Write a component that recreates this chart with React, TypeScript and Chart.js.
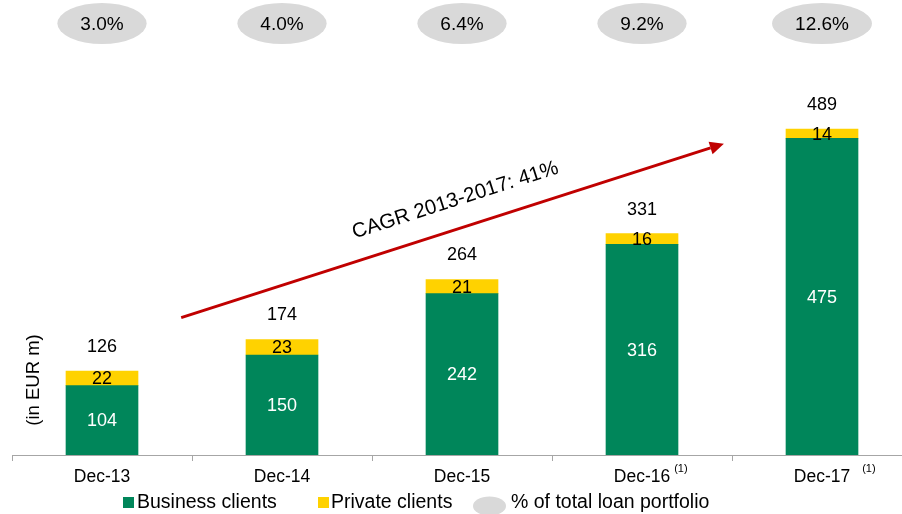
import React, { useEffect, useRef } from "react";
import { Chart, registerables } from "chart.js";

Chart.register(...registerables);

// ---- data ----
const categories = ["Dec-13", "Dec-14", "Dec-15", "Dec-16", "Dec-17"];
const footnotes = ["", "", "", "(1)", "(1)"];
const businessClients = [104, 150, 242, 316, 475];
const privateClients = [22, 23, 21, 16, 14];
const totals = [126, 174, 264, 331, 489];
const shareOfPortfolio = ["3.0%", "4.0%", "6.4%", "9.2%", "12.6%"];
const cagrLabel = "CAGR 2013-2017: 41%";
const yAxisTitle = "(in EUR m)";
const legendLabels = ["Business clients", "Private clients", "% of total loan portfolio"];
// arrow annotation endpoints in data space (x = category index, y = EUR m)
const arrowFrom = { x: 0.44, y: 206 };
const arrowTo = { x: 3.455, y: 467 };

// ---- styles ----
const GREEN = "#00865A";
const YELLOW = "#FFD200";
const GREY = "#D9D9D9";
const RED = "#C00000";
const FONT = '"Liberation Sans", Arial, Helvetica, sans-serif';

const overlayPlugin = {
  id: "overlay",
  afterDatasetsDraw(chart: any) {
    const ctx: CanvasRenderingContext2D = chart.ctx;
    const xs = chart.scales.x;
    const ys = chart.scales.y;
    const area = chart.chartArea;
    const y0 = ys.getPixelForValue(0);
    ctx.save();

    // axis line + tick marks at category boundaries
    ctx.strokeStyle = "#A6A6A6";
    ctx.lineWidth = 1;
    ctx.beginPath();
    ctx.moveTo(area.left, Math.round(y0) + 0.5);
    ctx.lineTo(area.right, Math.round(y0) + 0.5);
    for (let i = 0; i <= categories.length; i++) {
      const x = Math.round(xs.getPixelForValue(i - 0.5)) + 0.5;
      ctx.moveTo(x, Math.round(y0));
      ctx.lineTo(x, Math.round(y0) + 6);
    }
    ctx.stroke();

    ctx.textAlign = "center";
    ctx.textBaseline = "middle";

    categories.forEach((cat, i) => {
      const cx = xs.getPixelForValue(i);
      const b = businessClients[i];
      const p = privateClients[i];
      // segment labels
      ctx.font = `18px ${FONT}`;
      ctx.fillStyle = "#FFFFFF";
      ctx.fillText(String(b), cx, (ys.getPixelForValue(0) + ys.getPixelForValue(b)) / 2 + 1);
      ctx.fillStyle = "#000000";
      ctx.fillText(String(p), cx, (ys.getPixelForValue(b) + ys.getPixelForValue(b + p)) / 2 + 1);
      // totals
      ctx.fillText(String(totals[i]), cx, ys.getPixelForValue(totals[i]) - 24);

      // category labels
      ctx.font = `17.5px ${FONT}`;
      ctx.fillStyle = "#000000";
      ctx.fillText(cat, cx, y0 + 22);
      if (footnotes[i]) {
        const tw = ctx.measureText(cat).width;
        ctx.font = `11px ${FONT}`;
        ctx.textAlign = "left";
        const gap = i === categories.length - 1 ? 12 : 4;
        ctx.fillText(footnotes[i], cx + tw / 2 + gap, y0 + 14);
        ctx.textAlign = "center";
      }

      // percentage ellipses
      ctx.font = `19px ${FONT}`;
      const pw = ctx.measureText(shareOfPortfolio[i]).width;
      const rx = Math.max(83, pw + 46) / 2;
      ctx.fillStyle = GREY;
      ctx.beginPath();
      ctx.ellipse(cx, 23.5, rx, 20.5, 0, 0, Math.PI * 2);
      ctx.fill();
      ctx.fillStyle = "#000000";
      ctx.fillText(shareOfPortfolio[i], cx, 25);
    });

    // CAGR arrow
    const ax1 = xs.getPixelForValue(arrowFrom.x);
    const ay1 = ys.getPixelForValue(arrowFrom.y);
    const ax2 = xs.getPixelForValue(arrowTo.x);
    const ay2 = ys.getPixelForValue(arrowTo.y);
    const ang = Math.atan2(ay2 - ay1, ax2 - ax1);
    const headLen = 14;
    const headHalf = 6.5;
    ctx.strokeStyle = RED;
    ctx.fillStyle = RED;
    ctx.lineWidth = 3;
    ctx.beginPath();
    ctx.moveTo(ax1, ay1);
    ctx.lineTo(ax2 - headLen * Math.cos(ang), ay2 - headLen * Math.sin(ang));
    ctx.stroke();
    ctx.beginPath();
    ctx.moveTo(ax2, ay2);
    ctx.lineTo(
      ax2 - headLen * Math.cos(ang) + headHalf * Math.sin(ang),
      ay2 - headLen * Math.sin(ang) - headHalf * Math.cos(ang)
    );
    ctx.lineTo(
      ax2 - headLen * Math.cos(ang) - headHalf * Math.sin(ang),
      ay2 - headLen * Math.sin(ang) + headHalf * Math.cos(ang)
    );
    ctx.closePath();
    ctx.fill();

    // CAGR text, parallel to the arrow
    const along = 12;
    const mx = (ax1 + ax2) / 2 + along * Math.cos(ang);
    const my = (ay1 + ay2) / 2 + along * Math.sin(ang);
    const off = 28;
    const tx = mx + off * Math.sin(ang);
    const ty = my - off * Math.cos(ang);
    ctx.save();
    ctx.translate(tx, ty);
    ctx.rotate(ang);
    ctx.font = `20.5px ${FONT}`;
    ctx.fillStyle = "#000000";
    ctx.fillText(cagrLabel, 0, 0);
    ctx.restore();

    // y axis title
    ctx.save();
    ctx.translate(area.left + 22, 380);
    ctx.rotate(-Math.PI / 2);
    ctx.font = `18.5px ${FONT}`;
    ctx.fillStyle = "#000000";
    ctx.fillText(yAxisTitle, 0, 0);
    ctx.restore();

    // legend
    const ly = 502;
    ctx.font = `19.5px ${FONT}`;
    ctx.textAlign = "left";
    ctx.fillStyle = GREEN;
    ctx.fillRect(123, ly - 5, 11, 11);
    ctx.fillStyle = "#000000";
    ctx.fillText(legendLabels[0], 137, ly + 1);
    ctx.fillStyle = YELLOW;
    ctx.fillRect(318, ly - 5, 11, 11);
    ctx.fillStyle = "#000000";
    ctx.fillText(legendLabels[1], 331, ly + 1);
    ctx.fillStyle = GREY;
    ctx.beginPath();
    ctx.ellipse(489.5, ly + 4, 16.5, 9.5, 0, 0, Math.PI * 2);
    ctx.fill();
    ctx.fillStyle = "#000000";
    ctx.fillText(legendLabels[2], 511, ly + 1);

    ctx.restore();
  },
};

export default function App() {
  const ref = useRef<HTMLCanvasElement | null>(null);

  useEffect(() => {
    if (!ref.current) return;
    const chart = new Chart(ref.current, {
      type: "bar",
      data: {
        datasets: [
          {
            label: legendLabels[0],
            data: businessClients.map((v, i) => ({ x: i, y: v })),
            backgroundColor: GREEN,
            borderWidth: 0,
            barThickness: 72,
          },
          {
            label: legendLabels[1],
            data: privateClients.map((v, i) => ({ x: i, y: v })),
            backgroundColor: YELLOW,
            borderWidth: 0,
            barThickness: 72,
          },
        ],
      },
      options: {
        responsive: false,
        devicePixelRatio: 1,
        animation: false,
        layout: { padding: { left: 12, right: 0, top: 0, bottom: 59 } },
        plugins: { legend: { display: false }, tooltip: { enabled: false } },
        scales: {
          x: {
            type: "linear",
            display: false,
            stacked: true,
            offset: false,
            min: -0.5,
            max: -0.5 + 890 / 180,
          },
          y: {
            display: false,
            stacked: true,
            min: 0,
            max: 682.5,
          },
        },
      },
      plugins: [overlayPlugin],
    } as any);
    return () => chart.destroy();
  }, []);

  return (
    <div style={{ position: "absolute", left: 0, top: 0, width: 902, height: 514, background: "#fff" }}>
      <canvas ref={ref} width={902} height={514} style={{ display: "block" }} />
    </div>
  );
}
